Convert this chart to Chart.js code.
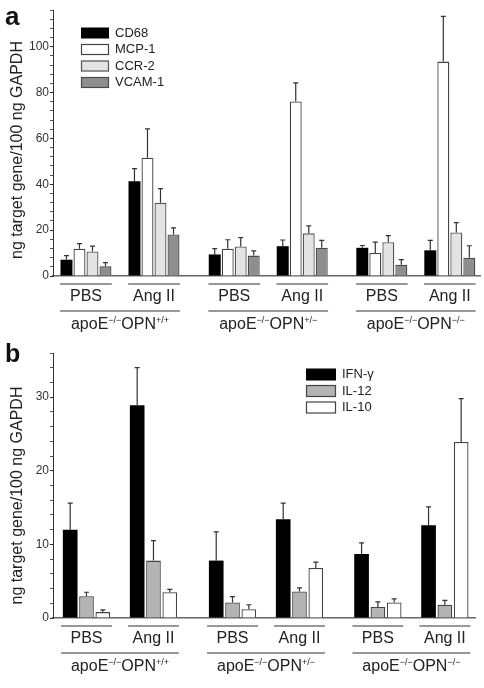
<!DOCTYPE html>
<html>
<head>
<meta charset="utf-8">
<script src="https://cdn.jsdelivr.net/npm/chart.js@4"></script>
<style>
    body { margin: 0; background: #fff; }
    .panel { position: absolute; left: 0; width: 484px; }
    #panel-a { top: 0; height: 335px; }
    #panel-b { top: 335px; height: 353px; }
</style>
</head>
<body>
<div class="panel" id="panel-a"><canvas id="chart-a"></canvas></div>
<div class="panel" id="panel-b"><canvas id="chart-b"></canvas></div>
<script>
// x labels
const grouplabels = ["PBS", "Ang II", "PBS", "Ang II", "PBS", "Ang II"];
const genotypesup = ["+/+", "+/\u2212", "\u2212/\u2212"];
const ytitle = "ng target gene/100 ng GAPDH";

// panel a (mean, upper error)
const cd68 = [7.1, 41.3, 9.4, 13.0, 12.3, 11.2];
const cd68err = [1.8, 5.5, 2.5, 2.7, 1.0, 4.3];
const mcp1 = [11.9, 51.6, 11.9, 76.1, 10.0, 93.5];
const mcp1err = [2.2, 12.6, 3.9, 8.1, 4.8, 19.7];
const ccr2 = [10.7, 31.9, 12.9, 18.6, 14.7, 19.0];
const ccr2err = [2.3, 6.2, 3.8, 3.3, 2.9, 4.3];
const vcam1 = [4.2, 18.1, 8.9, 12.3, 4.9, 8.0];
const vcam1err = [1.6, 2.9, 2.1, 3.2, 2.2, 5.2];

// panel b
const ifng = [12.0, 28.9, 7.8, 13.4, 8.7, 12.6];
const ifngerr = [3.6, 5.1, 3.9, 2.2, 1.5, 2.5];
const il12 = [2.95, 7.8, 2.1, 3.6, 1.5, 1.8];
const il12err = [0.55, 2.7, 0.8, 0.5, 0.7, 0.6];
const il10 = [0.8, 3.5, 1.2, 6.8, 2.1, 23.9];
const il10err = [0.3, 0.4, 0.6, 0.8, 0.5, 5.9];

// where each group sits on the x axis (genotypes are spaced a bit wider)
const grouppos = [0, 1, 2.18, 3.18, 4.35, 5.35];

const fontfamily = '"Liberation Sans", Arial, sans-serif';
Chart.defaults.font.family = fontfamily;
Chart.defaults.color = "#222";

function points(values) {
    return values.map((v, i) => ({ x: grouppos[i], y: v }));
}

function bardataset(label, values, errors, fill, border) {
    return {
        label: label,
        data: points(values),
        errors: errors,
        backgroundColor: fill,
        borderColor: border,
        borderWidth: fill === "#000000" ? 0 : 1.3,
    };
}

const figureplugin = {
    id: "figure",
    afterDatasetsDraw(chart) {
        const ctx = chart.ctx;
        const yscale = chart.scales.y;
        ctx.save();
        ctx.strokeStyle = "#333";
        ctx.lineWidth = 1.2;
        chart.data.datasets.forEach((ds, di) => {
            const meta = chart.getDatasetMeta(di);
            meta.data.forEach((bar, i) => {
                const top = yscale.getPixelForValue(ds.data[i].y + ds.errors[i]);
                ctx.beginPath();
                ctx.moveTo(bar.x, bar.y);
                ctx.lineTo(bar.x, top);
                ctx.moveTo(bar.x - 2.5, top);
                ctx.lineTo(bar.x + 2.5, top);
                ctx.stroke();
            });
        });
        ctx.restore();
    },
    afterDraw(chart, args, opts) {
        const ctx = chart.ctx;
        const xscale = chart.scales.x;
        const area = chart.chartArea;
        ctx.save();

        // panel letter
        ctx.fillStyle = "#111";
        ctx.font = `bold ${opts.lettersize}px ${fontfamily}`;
        ctx.textAlign = "left";
        ctx.textBaseline = "alphabetic";
        ctx.fillText(opts.letter, 5, opts.lettery);

        // y title
        ctx.save();
        ctx.translate(18, (area.top + area.bottom) / 2 + opts.titleshift);
        ctx.rotate(-Math.PI / 2);
        ctx.font = `16px ${fontfamily}`;
        ctx.textAlign = "center";
        ctx.textBaseline = "middle";
        ctx.fillStyle = "#222";
        ctx.fillText(ytitle, 0, 0);
        ctx.restore();

        // legend
        const lg = opts.legend;
        ctx.font = `13px ${fontfamily}`;
        ctx.textBaseline = "middle";
        chart.data.datasets.forEach((ds, i) => {
            const cy = lg.y + i * lg.row;
            ctx.fillStyle = ds.backgroundColor;
            ctx.fillRect(lg.x, cy - lg.h / 2, lg.w, lg.h);
            if (ds.borderWidth) {
                ctx.strokeStyle = ds.borderColor;
                ctx.lineWidth = 1.2;
                ctx.strokeRect(lg.x + 0.5, cy - lg.h / 2 + 0.5, lg.w - 1, lg.h - 1);
            }
            ctx.fillStyle = "#222";
            ctx.fillText(ds.label, lg.x + lg.w + 6, cy);
        });

        // group and genotype lines
        const axisy = xscale.top;
        ctx.strokeStyle = "#333";
        ctx.lineWidth = 1.2;
        grouppos.forEach((p) => {
            ctx.beginPath();
            ctx.moveTo(xscale.getPixelForValue(p - 0.38), axisy + 8);
            ctx.lineTo(xscale.getPixelForValue(p + 0.38), axisy + 8);
            ctx.stroke();
        });
        for (let g = 0; g < 3; g++) {
            const p0 = grouppos[g * 2];
            const p1 = grouppos[g * 2 + 1];
            ctx.beginPath();
            ctx.moveTo(xscale.getPixelForValue(p0 - 0.38), axisy + 35);
            ctx.lineTo(xscale.getPixelForValue(p1 + 0.38), axisy + 35);
            ctx.stroke();

            // apoE-/-OPN with superscripts
            const parts = [
                ["apoE", false],
                ["\u2212/\u2212", true],
                ["OPN", false],
                [genotypesup[g], true],
            ];
            const mainfont = `16px ${fontfamily}`;
            const supfont = `9px ${fontfamily}`;
            let total = 0;
            parts.forEach(([t, sup]) => {
                ctx.font = sup ? supfont : mainfont;
                total += ctx.measureText(t).width;
            });
            let tx = (xscale.getPixelForValue(p0) + xscale.getPixelForValue(p1)) / 2 - total / 2;
            const base = axisy + 53;
            ctx.textAlign = "left";
            ctx.textBaseline = "alphabetic";
            ctx.fillStyle = "#222";
            parts.forEach(([t, sup]) => {
                ctx.font = sup ? supfont : mainfont;
                ctx.fillText(t, tx, sup ? base - 6 : base);
                tx += ctx.measureText(t).width;
            });
        }
        ctx.restore();
    },
};

function makechart(el, cfg) {
    return new Chart(document.getElementById(el), {
        type: "bar",
        data: { datasets: cfg.datasets },
        options: {
            responsive: true,
            maintainAspectRatio: false,
            animation: false,
            layout: { padding: { top: cfg.padtop, right: cfg.padright, left: 0, bottom: 0 } },
            categoryPercentage: cfg.catpct,
            barPercentage: cfg.barpct,
            plugins: {
                legend: { display: false },
                tooltip: { enabled: false },
                figure: cfg.figure,
            },
            scales: {
                x: {
                    type: "linear",
                    offset: false,
                    min: cfg.xmin,
                    max: cfg.xmax,
                    grid: { display: false, drawTicks: false },
                    border: { color: "#666", width: 1.5 },
                    afterBuildTicks: (scale) => {
                        scale.ticks = grouppos.map((v) => ({ value: v }));
                    },
                    afterFit: (scale) => {
                        scale.height = cfg.xheight;
                    },
                    ticks: {
                        autoSkip: false,
                        maxRotation: 0,
                        padding: 11,
                        color: "#222",
                        font: { size: 16 },
                        callback: (value, index) => grouplabels[index],
                    },
                },
                y: {
                    min: 0,
                    max: cfg.ymax,
                    afterFit: (scale) => {
                        scale.width = 53;
                    },
                    grid: {
                        drawOnChartArea: false,
                        tickLength: 3,
                        tickColor: (c) => (c.tick && c.tick.value % cfg.major === 0 ? "#222" : "#555"),
                    },
                    border: { color: "#333", width: 1 },
                    ticks: {
                        stepSize: cfg.minor,
                        autoSkip: false,
                        padding: 1,
                        color: "#333",
                        font: { size: 12 },
                        callback: (value) => (value % cfg.major === 0 ? value : ""),
                    },
                },
            },
        },
        plugins: [figureplugin],
    });
}

makechart("chart-a", {
    datasets: [
        bardataset("CD68", cd68, cd68err, "#000000", "#000000"),
        bardataset("MCP-1", mcp1, mcp1err, "#ffffff", "#444444"),
        bardataset("CCR-2", ccr2, ccr2err, "#e3e3e3", "#555555"),
        bardataset("VCAM-1", vcam1, vcam1err, "#8e8e8e", "#4a4a4a"),
    ],
    padtop: 10,
    padright: 4,
    xmin: -0.485,
    xmax: 5.794,
    xheight: 59,
    ymax: 116,
    minor: 4,
    major: 20,
    catpct: 0.765,
    barpct: 0.92,
    figure: {
        letter: "a",
        lettersize: 26,
        lettery: 25,
        titleshift: 7,
        legend: { x: 81, y: 33, row: 16.5, w: 28, h: 11 },
    },
});

makechart("chart-b", {
    datasets: [
        bardataset("IFN-\u03b3", ifng, ifngerr, "#000000", "#000000"),
        bardataset("IL-12", il12, il12err, "#b3b3b3", "#444444"),
        bardataset("IL-10", il10, il10err, "#ffffff", "#444444"),
    ],
    padtop: 18,
    padright: 9,
    xmin: -0.5,
    xmax: 5.8,
    xheight: 70,
    ymax: 36,
    minor: 2,
    major: 10,
    catpct: 0.73,
    barpct: 0.9,
    figure: {
        letter: "b",
        lettersize: 25,
        lettery: 27,
        titleshift: 10,
        legend: { x: 306, y: 39.5, row: 16.5, w: 30, h: 12 },
    },
});
</script>
</body>
</html>
